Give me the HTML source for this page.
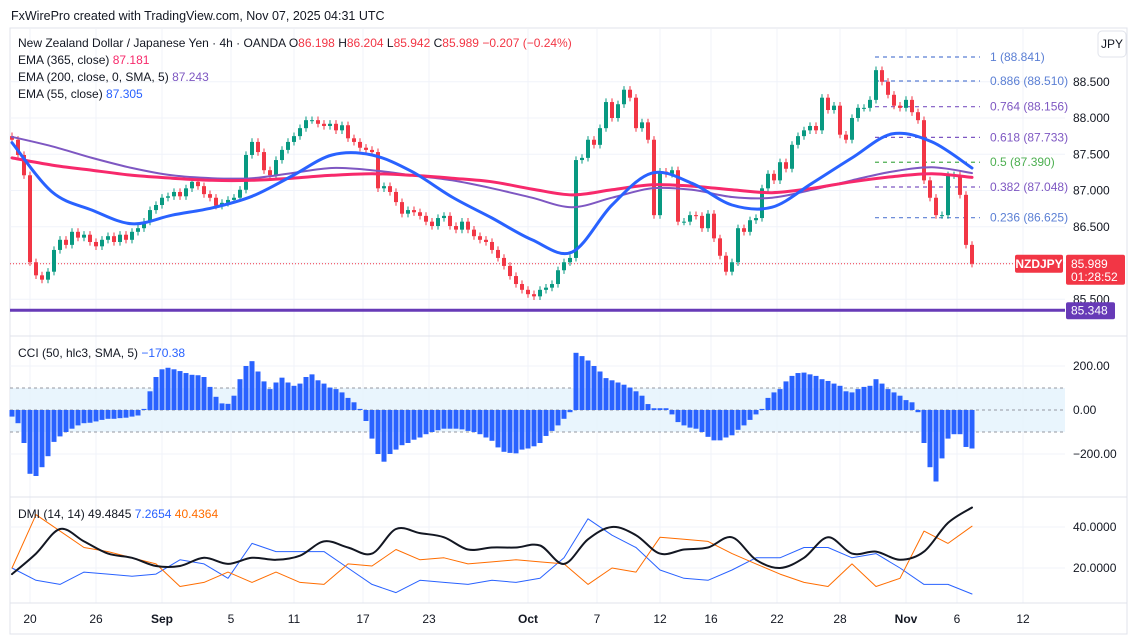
<!DOCTYPE html>
<html><head><meta charset="utf-8">
<style>
body{margin:0;background:#fff;font-family:"Liberation Sans",sans-serif;}
svg{display:block}
text{font-family:"Liberation Sans",sans-serif;}
</style></head>
<body>
<svg id="c" width="1129" height="643" viewBox="0 0 1129 643" xmlns="http://www.w3.org/2000/svg">
<rect x="0" y="0" width="1129" height="643" fill="#fff"/>
<text x="11" y="20" font-size="12.5" fill="#131722">FxWirePro created with TradingView.com, Nov 07, 2025 04:31 UTC</text>
<rect x="10" y="28" width="1117" height="606" fill="none" stroke="#e0e3eb"/>
<g id="grid"></g>
<g id="main"></g>
<g id="cci"></g>
<g id="dmi"></g>
<g id="axes"></g>
<g font-size="12" fill="#131722">
<text x="18" y="47">New Zealand Dollar / Japanese Yen · 4h · OANDA  O<tspan fill="#f23645">86.198</tspan>  H<tspan fill="#f23645">86.204</tspan>  L<tspan fill="#f23645">85.942</tspan>  C<tspan fill="#f23645">85.989</tspan>  <tspan fill="#f23645">−0.207 (−0.24%)</tspan></text>
<text x="18" y="64">EMA (365, close)  <tspan fill="#f7296b">87.181</tspan></text>
<text x="18" y="81">EMA (200, close, 0, SMA, 5)  <tspan fill="#7e57c2">87.243</tspan></text>
<text x="18" y="98">EMA (55, close)  <tspan fill="#2962ff">87.305</tspan></text>
<text x="18" y="357">CCI (50, hlc3, SMA, 5)  <tspan fill="#2962ff">−170.38</tspan></text>
<text x="18" y="518">DMI (14, 14)  49.4845  <tspan fill="#2962ff">7.2654</tspan>  <tspan fill="#ff6d00">40.4364</tspan></text>
</g>
</svg>
<script>
// ---- data ----
const closes=[87.70,87.49,87.21,86.01,85.83,85.77,85.88,86.18,86.32,86.25,86.43,86.35,86.39,86.29,86.23,86.32,86.37,86.29,86.39,86.32,86.43,86.48,86.57,86.73,86.80,86.90,86.92,86.98,86.92,87.03,87.12,87.06,86.95,86.90,86.79,86.83,86.87,86.90,87.01,87.49,87.67,87.53,87.28,87.21,87.42,87.56,87.67,87.75,87.86,87.97,87.97,87.92,87.89,87.92,87.83,87.90,87.72,87.67,87.59,87.56,87.53,87.03,87.06,86.98,86.84,86.68,86.73,86.70,86.65,86.57,86.51,86.62,86.65,86.51,86.46,86.57,86.46,86.37,86.32,86.29,86.18,86.07,85.96,85.82,85.71,85.63,85.57,85.54,85.63,85.66,85.71,85.90,86.01,86.07,87.42,87.45,87.70,87.63,87.86,88.22,88.00,88.19,88.39,88.28,87.86,87.94,87.70,86.66,87.26,87.23,87.28,86.57,86.57,86.66,86.65,86.48,86.68,86.34,86.10,85.88,86.01,86.48,86.43,86.59,86.62,87.03,87.23,87.14,87.39,87.30,87.63,87.75,87.83,87.89,87.83,88.28,88.11,88.17,87.77,87.70,88.00,88.14,88.14,88.25,88.66,88.50,88.32,88.17,88.14,88.25,88.08,87.97,87.14,86.90,86.66,86.66,87.21,87.21,86.94,86.25,85.99];
const ema55=[87.66,86.98,86.73,86.54,86.66,86.76,86.92,87.20,87.49,87.49,87.26,86.91,86.62,86.32,86.15,86.80,87.24,87.10,86.80,86.77,87.10,87.45,87.78,87.67,87.31];
const ema200=[87.74,87.61,87.45,87.31,87.21,87.17,87.17,87.24,87.31,87.28,87.21,87.14,87.03,86.90,86.77,86.90,87.03,87.01,86.91,86.90,87.01,87.14,87.26,87.32,87.24];
const ema365=[87.45,87.35,87.28,87.21,87.17,87.14,87.14,87.17,87.21,87.23,87.21,87.17,87.12,87.02,86.94,87.01,87.08,87.06,87.01,86.97,87.03,87.12,87.19,87.23,87.18];
const cci=[-30,-60,-150,-290,-300,-260,-210,-145,-120,-100,-85,-70,-60,-58,-52,-45,-40,-40,-37,-35,-30,-25,5,85,150,185,192,185,177,168,160,158,150,105,60,30,28,65,140,200,222,175,130,95,125,147,125,110,120,150,162,135,120,102,95,80,55,35,5,-50,-130,-200,-235,-200,-180,-160,-150,-135,-125,-110,-100,-92,-85,-85,-85,-88,-95,-100,-110,-125,-140,-170,-190,-195,-197,-180,-175,-165,-150,-118,-95,-70,-40,-10,260,245,225,200,175,145,135,125,115,102,85,65,27,8,8,8,-20,-55,-70,-80,-85,-100,-122,-138,-138,-125,-115,-90,-70,-45,-20,5,55,80,95,130,155,168,170,162,155,140,132,120,110,85,80,95,105,110,140,120,95,80,65,45,35,-10,-150,-260,-325,-220,-130,-110,-110,-168,-175];
const adx=[17,27,39,33,27,25,21,21,25,22,25,24,26,33,30,27,39,37,35,29,30,30,31,22,34,40,36,27,29,30,35,24,20,25,35,27,28,24,28,42,49.5];
const diPlus=[20,14,12,18,17,16,17,24,22,15,32,28,28,28,20,12,8,14,13,12,14,13,15,25,44,36,30,19,15,14,19,25,25,30,30,25,27,20,12,12,7.3];
const diMinus=[20,46,38,30,28,25,22,11,13,18,13,18,13,12,22,21,29,24,25,22,23,24,23,22,12,20,18,35,34,33,27,22,17,13,11,22,11,15,38,32,40.4];
const priceTicks=["88.500","88.000","87.500","87.000","86.500","85.500"];
const cciTicks=["200.00","0.00","-200.00"];
const dmiTicks=["40.0000","20.0000"];
const timeLabels=["20","26","Sep","5","11","17","23","Oct","7","12","16","22","28","Nov","6","12"];
const timeIdx=[3,14,25,36.5,47,58.5,69.5,86,97.5,108,116.5,127.5,138,149,157.5,168.5];
const fibRatios=["1","0.886","0.764","0.618","0.5","0.382","0.236"];
const fibPrices=[88.841,88.510,88.156,87.733,87.390,87.048,86.625];
const fibColors=["#5b7fd4","#5b7fd4","#7e57c2","#7e57c2","#4caf50","#7e57c2","#5b7fd4"];
const lastPrice=85.989, supportPrice=85.348;

// ---- axis functions ----
const NS="http://www.w3.org/2000/svg";
const X0=12, STEP=6, PL=10, PR=1065;
const xi=i=>X0+i*STEP;
const xs=(k,n)=>X0+k*(960/(n-1));
const py=p=>118+(88-p)*72.5;
const cy=v=>410-v*0.22;
const dy=v=>568-(v-20)*2.05;
function mk(tag,attrs,parent){const e=document.createElementNS(NS,tag);for(const k in attrs)e.setAttribute(k,attrs[k]);parent.appendChild(e);return e;}
const G=id=>document.getElementById(id);

// grid
const grid=G('grid');
timeIdx.forEach((t,k)=>{const l=mk('line',{x1:xi(t),x2:xi(t),y1:29,y2:603,stroke:'#f0f3fa'},grid);

});
[88.5,88,87.5,87,86.5,86,85.5].forEach(p=>{const l=mk('line',{x1:PL,x2:PR,y1:py(p),y2:py(p),stroke:'#f0f3fa'},grid);

});
[200,-200].forEach(v=>mk('line',{x1:PL,x2:PR,y1:cy(v),y2:cy(v),stroke:'#f0f3fa'},grid));
[40,20].forEach(v=>mk('line',{x1:PL,x2:PR,y1:dy(v),y2:dy(v),stroke:'#f0f3fa'},grid));
mk('line',{x1:10,x2:1127,y1:336,y2:336,stroke:'#e0e3eb'},grid);
mk('line',{x1:10,x2:1127,y1:497,y2:497,stroke:'#e0e3eb'},grid);
mk('line',{x1:10,x2:1127,y1:603,y2:603,stroke:'#e0e3eb'},grid);

// main
const main=G('main');
fibPrices.forEach((p,k)=>{
 const l=mk('line',{x1:875,x2:980,y1:py(p),y2:py(p),stroke:fibColors[k],'stroke-dasharray':'4 4','stroke-width':1.2},main);
 
 
 const t=mk('text',{x:990,y:py(p)+4,'font-size':12,fill:fibColors[k]},main);
 t.textContent=fibRatios[k]+' ('+p.toFixed(3)+')';
 
 
});
const cl=mk('line',{x1:PL,x2:1015,y1:py(lastPrice),y2:py(lastPrice),stroke:'#f23645','stroke-dasharray':'1 2','stroke-width':1},main);


closes.forEach((c,i)=>{
 const o=i===0?87.75:closes[i-1];
 const up=c>=o, col=up?'#089981':'#f23645';
 const hi=Math.max(o,c)+0.05, lo=Math.min(o,c)-0.05;
 const w=mk('line',{x1:xi(i),x2:xi(i),y1:py(hi),y2:py(lo),stroke:col,'stroke-width':1},main);
 
 
 const b=mk('rect',{x:xi(i)-2,y:py(Math.max(o,c)),width:4,height:Math.max(1,Math.abs(py(o)-py(c))),fill:col},main);
 
 
});
function line(arr,col,w,parent,yf,name,smooth){
 const pts=arr.map((v,k)=>[xs(k,arr.length),yf(v)]);
 let d='M'+pts[0][0].toFixed(1)+' '+pts[0][1].toFixed(1);
 for(let k=1;k<pts.length;k++){
  if(smooth){
   const p0=pts[Math.max(0,k-2)],p1=pts[k-1],p2=pts[k],p3=pts[Math.min(pts.length-1,k+1)];
   const c1x=p1[0]+(p2[0]-p0[0])/6,c1y=p1[1]+(p2[1]-p0[1])/6;
   const c2x=p2[0]-(p3[0]-p1[0])/6,c2y=p2[1]-(p3[1]-p1[1])/6;
   d+=' C'+c1x.toFixed(1)+' '+c1y.toFixed(1)+' '+c2x.toFixed(1)+' '+c2y.toFixed(1)+' '+p2[0].toFixed(1)+' '+p2[1].toFixed(1);
  } else d+=' L'+pts[k][0].toFixed(1)+' '+pts[k][1].toFixed(1);
 }
 const p=mk('path',{d:d,fill:'none',stroke:col,'stroke-width':w,'stroke-linejoin':'round','stroke-linecap':'round'},parent);
 
 
}
line(ema200,'#7e57c2',2,main,py,'ema200-line',true);
line(ema365,'#f7296b',3,main,py,'ema365-line',true);
line(ema55,'#2962ff',3,main,py,'ema55-line',true);
const sl=mk('line',{x1:PL,x2:1065,y1:py(supportPrice),y2:py(supportPrice),stroke:'#673ab7','stroke-width':3},main);



// CCI
const cg=G('cci');
const band=mk('rect',{x:PL,y:cy(100),width:PR-PL,height:cy(-100)-cy(100),fill:'#e3f2fd','fill-opacity':0.8},cg);


[100,0,-100].forEach(v=>mk('line',{x1:PL,x2:PR,y1:cy(v),y2:cy(v),stroke:'#9598a1','stroke-dasharray':'3 3','stroke-width':1},cg));
cci.forEach((v,i)=>{
 const r=mk('rect',{x:xi(i)-2.5,y:Math.min(cy(v),cy(0)),width:5,height:Math.abs(cy(v)-cy(0)),fill:'#2962ff'},cg);
 
 
});

// DMI
const dg=G('dmi');
line(diPlus,'#2962ff',1,dg,dy,'di-plus-line',false);
line(diMinus,'#ff6d00',1,dg,dy,'di-minus-line',false);
line(adx,'#131722',2,dg,dy,'adx-line',true);

// axes
const ax=G('axes');
priceTicks.forEach(t=>{const e=mk('text',{x:1073,y:py(+t)+4,'font-size':12,fill:'#131722'},ax);e.textContent=t;

});
cciTicks.forEach(t=>{const e=mk('text',{x:1073,y:cy(+t)+4,'font-size':12,fill:'#131722'},ax);e.textContent=t.replace('-','−');

});
dmiTicks.forEach(t=>{const e=mk('text',{x:1073,y:dy(+t)+4,'font-size':12,fill:'#131722'},ax);e.textContent=t;

});
timeLabels.forEach((t,k)=>{const bold=(t==='Sep'||t==='Oct'||t==='Nov');
 const e=mk('text',{x:xi(timeIdx[k]),y:623,'font-size':12,fill:'#131722','text-anchor':'middle','font-weight':bold?'bold':'normal'},ax);e.textContent=t;
 
 });
const jb=mk('rect',{x:1098,y:31,width:28,height:26,rx:4,fill:'#fff',stroke:'#e0e3eb'},ax);


const jt=mk('text',{x:1112,y:48,'font-size':12,fill:'#131722','text-anchor':'middle'},ax);jt.textContent='JPY';
const yl=py(lastPrice);
const sb=mk('rect',{x:1015,y:yl-9,width:48,height:18,rx:2,fill:'#f23645'},ax);


const st=mk('text',{x:1039,y:yl+4,'font-size':12,fill:'#fff','text-anchor':'middle','font-weight':'bold'},ax);st.textContent='NZDJPY';
const pb=mk('rect',{x:1066,y:yl-9,width:59,height:30,rx:2,fill:'#f23645'},ax);


const pt=mk('text',{x:1071,y:yl+4,'font-size':12,fill:'#fff'},ax);pt.textContent=lastPrice.toFixed(3);
const tt=mk('text',{x:1071,y:yl+17,'font-size':12,fill:'#fff'},ax);tt.textContent='01:28:52';
const ys=py(supportPrice);
const spb=mk('rect',{x:1066,y:ys-8,width:49,height:17,rx:2,fill:'#673ab7'},ax);


const spt=mk('text',{x:1071,y:ys+4,'font-size':12,fill:'#fff'},ax);spt.textContent=supportPrice.toFixed(3);
</script>
</body></html>
